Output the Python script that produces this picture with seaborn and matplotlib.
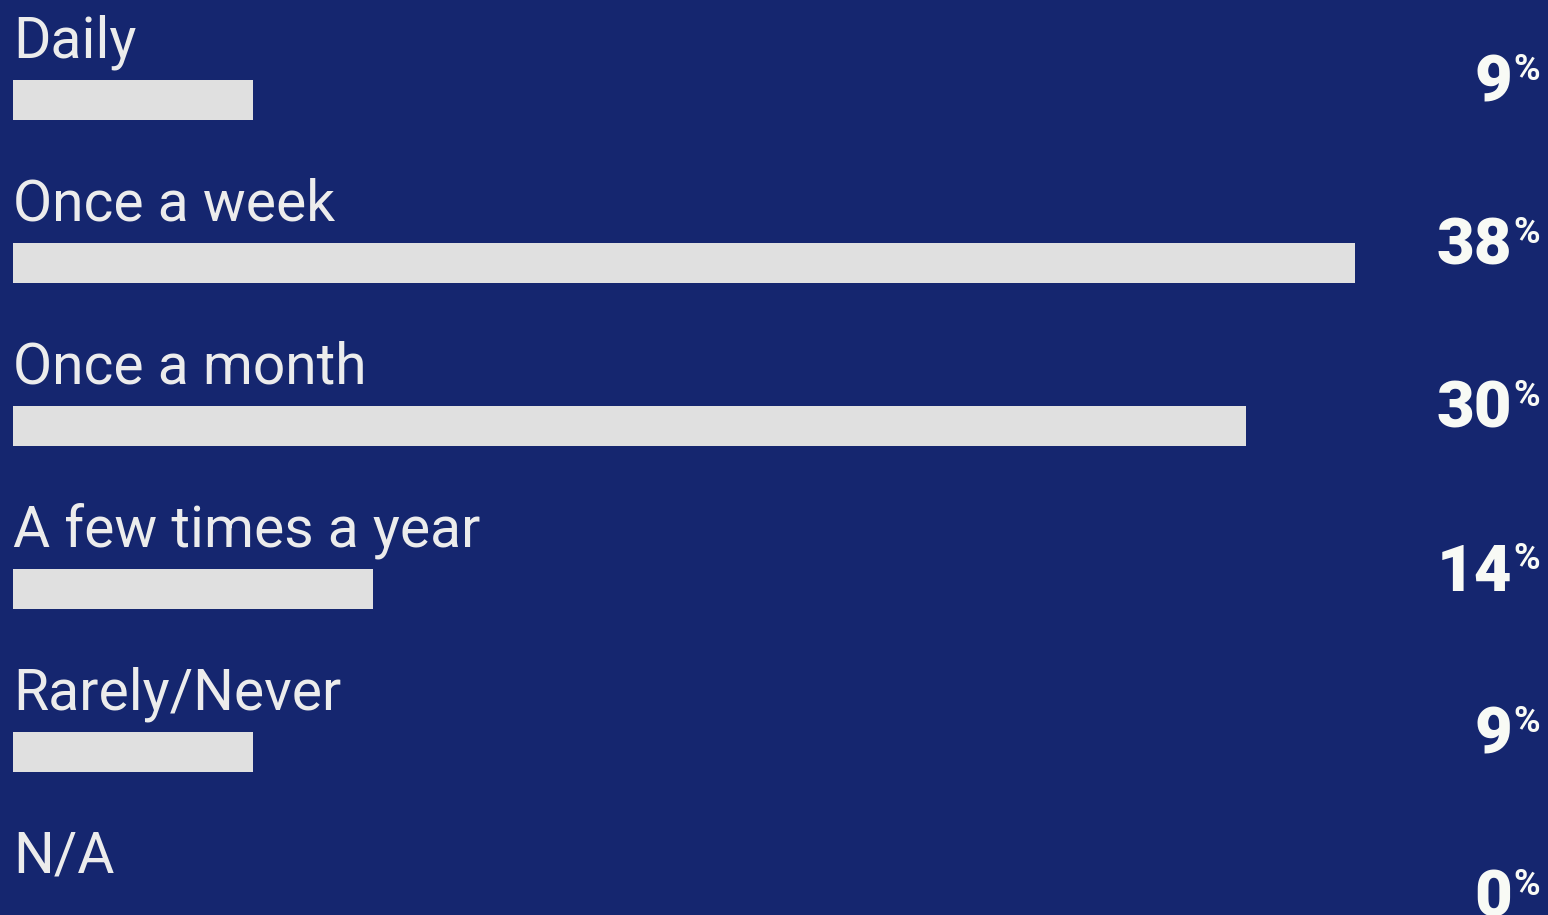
import matplotlib
matplotlib.use("Agg")
import matplotlib.pyplot as plt
import matplotlib.transforms as mtransforms
import pandas as pd
import seaborn as sns

categories = ["Daily", "Once a week", "Once a month", "A few times a year", "Rarely/Never", "N/A"]
pct_labels = [9, 38, 30, 14, 9, 0]
# bar lengths as drawn in the picture (not exactly proportional to the labels)
bar_lengths = [6.8, 38, 34.9, 10.2, 6.8, 0]

bg = "#15266f"
bar_col = "#e0e0e0"

sns.set_theme(style="white")
plt.rcParams["font.family"] = ["Roboto", "DejaVu Sans"]

df = pd.DataFrame({"cat": categories, "val": bar_lengths})

fig = plt.figure(figsize=(15.48, 9.15), dpi=100, facecolor=bg)
ax = fig.add_axes([0, 0, 1, 1])
ax.set_facecolor(bg)

sns.barplot(data=df, x="val", y="cat", orient="h", color=bar_col,
            saturation=1, width=0.245, linewidth=0, ax=ax)

ax.set_xlim(-0.368, 43.46)
ax.set_ylim(5.0, -0.6135)
ax.axis("off")

trans = mtransforms.blended_transform_factory(ax.transAxes, ax.transData)
for i, (cat, p) in enumerate(zip(categories, pct_labels)):
    ax.text(0.0, i - 0.262, cat, fontsize=41, fontweight="normal",
            color="#ececec", ha="left", va="baseline")
    ax.text(0.9767, i + 0.012, str(p), fontsize=47, fontweight="black",
            color="#f8faf5", ha="right", va="baseline", transform=trans)
    ax.annotate("%", xy=(0.9776, i + 0.012), xycoords=trans,
                xytext=(0, 16), textcoords="offset points",
                fontsize=26, fontweight="bold", color="#f8faf5",
                ha="left", va="baseline")

fig.savefig("out.png", dpi=100, facecolor=bg)
